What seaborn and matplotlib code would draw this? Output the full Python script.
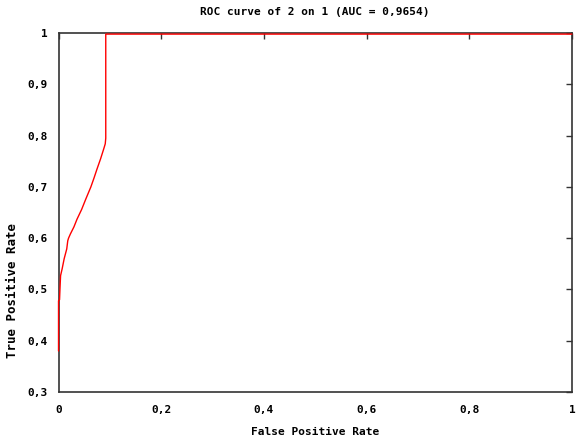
import matplotlib
matplotlib.use("Agg")
import matplotlib.pyplot as plt
import seaborn as sns
import pandas as pd

# ROC points
fpr = [0.0, 0.0, 0.002, 0.003, 0.004, 0.007, 0.011, 0.016, 0.018, 0.0195, 0.023, 0.030,
       0.036, 0.045, 0.053, 0.063, 0.069, 0.075, 0.082, 0.088, 0.091, 0.092, 0.092, 1.0]
tpr = [0.38, 0.478, 0.48, 0.505, 0.527, 0.54, 0.56, 0.579, 0.595, 0.60, 0.608, 0.622,
       0.637, 0.656, 0.676, 0.70, 0.717, 0.735, 0.755, 0.774, 0.784, 0.795, 0.998, 0.998]

xticks = [0, 0.2, 0.4, 0.6, 0.8, 1]
xticklabels = ["0", "0,2", "0,4", "0,6", "0,8", "1"]
yticks = [0.3, 0.4, 0.5, 0.6, 0.7, 0.8, 0.9, 1]
yticklabels = ["0,3", "0,4", "0,5", "0,6", "0,7", "0,8", "0,9", "1"]

df = pd.DataFrame({"fpr": fpr, "tpr": tpr})

sns.set_style("white")
plt.rcParams['font.family'] = ['DejaVu Sans Mono']
plt.rcParams['font.weight'] = 'bold'
plt.rcParams['text.color'] = 'black'
plt.rcParams['xtick.labelcolor'] = 'black'
plt.rcParams['ytick.labelcolor'] = 'black'
plt.rcParams['axes.labelcolor'] = 'black'

fig = plt.figure(figsize=(5.76, 4.47), dpi=100)
ax = fig.add_axes([0.1016, 0.123, 0.8914, 0.803])

sns.lineplot(data=df, x="fpr", y="tpr", sort=False, estimator=None,
             color="#ff0000", linewidth=1.0, ax=ax, clip_on=False, zorder=3)

ax.set_xlim(0, 1)
ax.set_ylim(0.3, 1)
ax.set_xticks(xticks)
ax.set_xticklabels(xticklabels)
ax.set_yticks(yticks)
ax.set_yticklabels(yticklabels)
ax.tick_params(direction="in", length=4, width=1, color="#333333",
               top=True, right=True, labelsize=8, pad=9)
ax.tick_params(axis="y", pad=8)

for s in ax.spines.values():
    s.set_color("#333333")
    s.set_linewidth(1.2)
    s.set_zorder(2)

ax.set_title("ROC curve of 2 on 1 (AUC = 0,9654)", fontsize=8, pad=13, fontweight="bold")
ax.set_xlabel("False Positive Rate", fontsize=8, fontweight="bold")
ax.set_ylabel("True Positive Rate", fontsize=9, fontweight="bold")
ax.xaxis.set_label_coords(0.5, -0.098)
ax.yaxis.set_label_coords(-0.077, 0.284)

fig.savefig("out.png", dpi=100)
